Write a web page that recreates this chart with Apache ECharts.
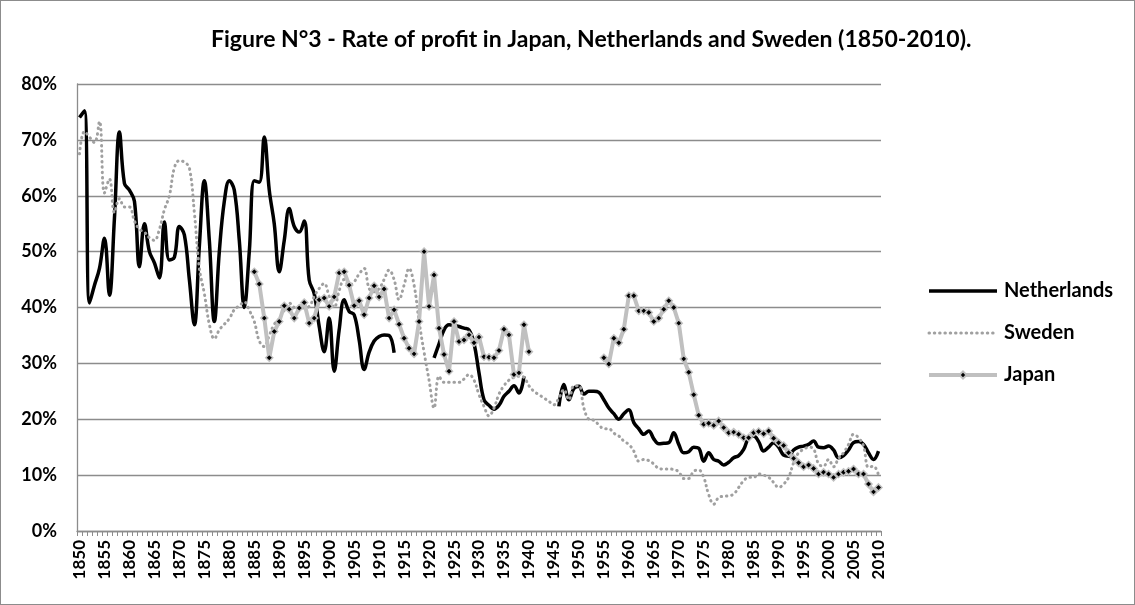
<!DOCTYPE html>
<html>
<head>
<meta charset="utf-8">
<script src="https://cdn.jsdelivr.net/npm/echarts@6/dist/echarts.min.js"></script>
<style>
  html, body { margin: 0; padding: 0; background: #fff; }
  #chart { width: 1135px; height: 605px; box-sizing: border-box; border: 1px solid #8c8c8c; }
</style>
</head>
<body>
<div id="chart"></div>
<script>
// years 1850 - 2010
var years = [];
for (var y = 1850; y <= 2010; y++) years.push(String(y));

var yTicks = [0, 10, 20, 30, 40, 50, 60, 70, 80];

// rate of profit, %
var netherlands = [
  74, 75.2, 40.8, 44, 47, 52.4, 42.2, 56, 71.4, 62.2,
  61, 59, 47.3, 55, 50, 48, 45.3, 55.3, 48.5, 49,
  54.5, 53, 45, 36.9, 51, 62.7, 52, 37.5, 50, 59,
  62.7, 61, 52, 40, 50, 62.7, 62.4, 70.5, 61, 55,
  46.4, 52, 57.7, 54.5, 53.5, 55.5, 44.9, 42.5, 36.6, 32.1,
  38.1, 28.6, 36, 41.4, 39.3, 38.7, 34.2, 28.9, 32, 34,
  34.8, 35.1, 35, 31.9, null, null, null, null, null, null,
  null, 31, 33.5, 36, 36.9, 36.8, 36.6, 36.3, 36, 33.6,
  28.3, 23.5, 22.5, 21.8, 22.5, 24.1, 25, 26, 24.7, 27.7,
  null, null, null, null, null, null, 22.3, 26.2, 23.5, 25.5,
  25.9, 24.5, 25, 25, 24.8, 23.5, 22, 21, 20, 21,
  21.7, 19.4, 18.3, 17.3, 17.9, 16.5, 15.6, 15.7, 15.8, 17.6,
  15.5, 14, 14.2, 15, 14.8, 12.5, 14, 12.8, 12.5, 11.8,
  12.3, 13.1, 13.5, 14.6, 16.7, 17, 16, 14.3, 15, 15.8,
  15, 13.6, 13.4, 14.5, 15, 15.2, 15.5, 16.1, 15, 14.9,
  15.2, 14.5, 13.1, 13.5, 14.5, 15.8, 16, 15.5, 14, 12.8,
  14.3
];

var sweden = [
  67.5, 71.5, 70.5, 69.5, 73.3, 60.5, 63, 57, 59.5, 58,
  58, 55.5, 54, 53.5, 52.5, 52, 54, 57.5, 60, 65,
  66.3, 66, 65, 57, 47, 42.5, 37, 34.4, 36, 37,
  38, 39.6, 40.3, 41, 39.5, 37.5, 34, 33, 35, 37,
  38, 39.5, 40.8, 40, 39.6, 40, 40.2, 42, 43.4, 44.3,
  42, 40, 43, 45, 44, 44.6, 46, 47, 43.4, 42.8,
  43.4, 45, 46.7, 45, 41.4, 44, 47, 44, 37.5, 32,
  27, 22, 27.7, 26.6, 26.6, 26.6, 26.6, 27.2, 28, 27,
  24.4, 22.3, 20.6, 22, 24.5, 26, 27, 27.5, 27.7, 27.5,
  26, 25, 24.4, 23.8, 23.2, 22.6, 23.8, 25.3, 23.5, 26,
  26, 22, 20, 19.8, 19, 18.3, 18.3, 17.5, 17, 16.1,
  15.5, 14.3, 12.5, 12.8, 12.6, 12, 11.2, 11.1, 11.1, 11,
  10.6, 9.4, 9.4, 10.7, 10.9, 9.6, 6.5, 4.8, 6, 6.2,
  6.3, 6.6, 7.8, 9, 9.6, 9.6, 10.2, 10, 9.6, 8.7,
  7.8, 8.4, 9.6, 12.2, 14, 14.6, 15, 14.7, 12, 11.6,
  12.8, 11.5, 13, 14, 15.5, 17.3, 16.7, 15.2, 11.4, 11.6,
  10
];

var japan = [
  null, null, null, null, null, null, null, null, null, null,
  null, null, null, null, null, null, null, null, null, null,
  null, null, null, null, null, null, null, null, null, null,
  null, null, null, null, null, 46.4, 44.2, 38.1, 31, 35.7,
  37.5, 40.3, 39.7, 38.1, 39.9, 40.9, 37.2, 38.1, 41.4, 41.7,
  40.2, 41.9, 46.2, 46.4, 44, 40.3, 41.2, 38.7, 41.7, 43.9,
  41.9, 43.3, 38.1, 39.6, 37, 34.5, 32.7, 31.7, 37.5, 50,
  40.2, 45.8, 36.3, 31.6, 28.6, 37.5, 33.9, 34.2, 35.1, 33.7,
  34.7, 31.2, 31.1, 31, 32.3, 36.1, 35.1, 28, 28.3, 36.9,
  32.1, null, null, null, null, null, null, null, null, null,
  null, null, null, null, null, 31, 29.9, 34.5, 33.7, 36.1,
  42.1, 42.1, 39.4, 39.4, 39.1, 37.5, 38.1, 39.7, 41.2, 40,
  37.2, 30.8, 28.4, 24.4, 20.7, 19.1, 19.3, 18.9, 19.7, 18.5,
  17.6, 17.7, 17.3, 16.7, 16.7, 17.6, 17.8, 17.4, 17.9, 16.6,
  15.8, 15.3, 14, 13, 12.2, 11.5, 11.8, 11.2, 10.2, 10.5,
  10.2, 9.6, 10.2, 10.5, 10.7, 11.1, 10.2, 10.2, 8.4, 7,
  7.8
];

var font = 'Lato, "Open Sans", sans-serif';
var chart = echarts.init(document.getElementById('chart'));

var option = {
  animation: false,
  textStyle: { fontFamily: font },
  title: {
    text: 'Figure N°3 - Rate of profit in Japan, Netherlands and Sweden (1850-2010).',
    left: 205,
    top: 22,
    textStyle: { fontFamily: font, fontSize: 23, fontWeight: 'bold', color: '#000' }
  },
  legend: {
    orient: 'vertical',
    left: 921,
    top: 274,
    itemWidth: 68,
    itemHeight: 9,
    itemGap: 20,
    textStyle: {
      fontFamily: font, fontSize: 20, fontWeight: 'bold', color: '#000',
      lineHeight: 22, padding: [0, 0, 0, 2]
    },
    data: [
      { name: 'Netherlands', itemStyle: { opacity: 0 }, lineStyle: { width: 3.5 } },
      { name: 'Sweden', itemStyle: { opacity: 0 }, lineStyle: { width: 3 } },
      { name: 'Japan', lineStyle: { width: 4 } }
    ]
  },
  grid: { left: 76, right: 253, top: 83, bottom: 73 },
  xAxis: {
    type: 'category',
    data: years,
    boundaryGap: true,
    axisLine: { lineStyle: { color: '#8c8c8c', width: 1.3 } },
    axisTick: { show: true, interval: 0, length: 5, lineStyle: { color: '#8c8c8c' } },
    axisLabel: {
      interval: 4,
      rotate: 90,
      fontFamily: font,
      fontSize: 17,
      fontWeight: 'bold',
      color: '#000',
      margin: 9
    },
    splitLine: { show: false }
  },
  yAxis: {
    type: 'value',
    min: yTicks[0],
    max: yTicks[yTicks.length - 1],
    interval: 10,
    axisLine: { show: true, lineStyle: { color: '#8c8c8c', width: 1.3 } },
    axisTick: { show: false },
    axisLabel: {
      formatter: '{value}%',
      fontFamily: font,
      fontSize: 18,
      fontWeight: 'bold',
      color: '#000',
      margin: 20
    },
    splitLine: { lineStyle: { color: '#8c8c8c', width: 1.3 } }
  },
  series: [
    {
      name: 'Netherlands',
      type: 'line',
      data: netherlands,
      smooth: 0.4,
      symbol: 'none',
      connectNulls: false,
      lineStyle: { color: '#000', width: 3.5 },
      itemStyle: { color: '#000' }
    },
    {
      name: 'Sweden',
      type: 'line',
      data: sweden,
      smooth: 0.4,
      symbol: 'none',
      lineStyle: { color: '#a0a0a0', width: 3, type: [0.5, 4.8], cap: 'round' },
      itemStyle: { color: '#a0a0a0' }
    },
    {
      name: 'Japan',
      type: 'line',
      data: japan,
      symbol: 'diamond',
      symbolSize: 7,
      showAllSymbol: true,
      connectNulls: false,
      lineStyle: { color: '#c0c0c0', width: 4 },
      itemStyle: { color: '#000', borderColor: '#c0c0c0', borderWidth: 1.5 }
    }
  ]
};

chart.setOption(option);
</script>
</body>
</html>
